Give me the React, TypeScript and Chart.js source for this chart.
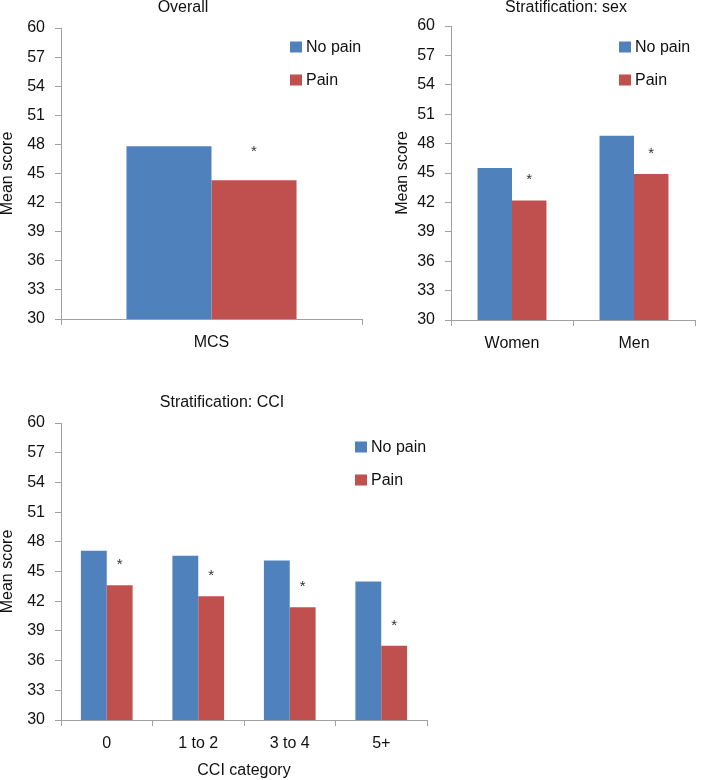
import React, { useEffect, useRef } from 'react';
import { Chart, registerables } from 'chart.js';

Chart.register(...registerables);

const FONT = '"Liberation Sans", Arial, Helvetica, sans-serif';
const TEXT = '#111111';
const AXIS = '#a0a0a0';
const BLUE = '#4F81BD';
const RED = '#C0504D';

const seriesLabels = ['No pain', 'Pain'];
const yMin = 30;
const yMax = 60;
const yStep = 3;

const overallCategories = ['MCS'];
const overallNoPain = [47.8];
const overallPain = [44.3];
const overallSig = [true];

const sexCategories = ['Women', 'Men'];
const sexNoPain = [45.5, 48.8];
const sexPain = [42.2, 44.9];
const sexSig = [true, true];

const cciCategories = ['0', '1 to 2', '3 to 4', '5+'];
const cciNoPain = [47.1, 46.6, 46.1, 44.0];
const cciPain = [43.6, 42.5, 41.4, 37.5];
const cciSig = [true, true, true, true];

const extrasPlugin = {
  id: 'panelExtras',
  afterDraw(chart: any, _args: any, opts: any) {
    const { ctx, chartArea } = chart;
    ctx.save();
    // title
    ctx.font = `16px ${FONT}`;
    ctx.fillStyle = TEXT;
    ctx.textAlign = 'center';
    ctx.textBaseline = 'middle';
    ctx.fillText(opts.title, opts.titleX, opts.titleY);
    // legend
    const lx = chartArea.right - opts.legendRight;
    chart.data.datasets.forEach((ds: any, i: number) => {
      const y = chartArea.top + opts.legendTop + i * opts.legendGap;
      ctx.fillStyle = ds.backgroundColor;
      ctx.fillRect(lx, y - 5.5, 12, 11);
      ctx.fillStyle = TEXT;
      ctx.textAlign = 'left';
      ctx.textBaseline = 'middle';
      ctx.font = `16px ${FONT}`;
      ctx.fillText(ds.label, lx + 16, y + 1);
    });
    // significance asterisks over the Pain bars
    const meta = chart.getDatasetMeta(1);
    ctx.font = `15px ${FONT}`;
    ctx.fillStyle = '#333333';
    ctx.textAlign = 'center';
    ctx.textBaseline = 'alphabetic';
    meta.data.forEach((bar: any, i: number) => {
      if (opts.sig[i]) ctx.fillText('*', bar.x, bar.y - opts.starGap);
    });
    ctx.restore();
  },
};

type PanelProps = {
  left: number;
  top: number;
  width: number;
  height: number;
  categories: string[];
  noPain: number[];
  pain: number[];
  sig: boolean[];
  title: string;
  titleX: number;
  titleY: number;
  padLeft: number;
  padTop: number;
  padRight: number;
  yWidth: number;
  xHeight: number;
  xTitle?: string;
  legendRight: number;
  legendTop: number;
  legendGap: number;
  starGap: number;
};

function Panel(p: PanelProps) {
  const ref = useRef<HTMLCanvasElement | null>(null);
  useEffect(() => {
    if (!ref.current) return;
    const chart = new Chart(ref.current, {
      type: 'bar',
      data: {
        labels: p.categories,
        datasets: [
          { label: seriesLabels[0], data: p.noPain, backgroundColor: BLUE, borderWidth: 0 },
          { label: seriesLabels[1], data: p.pain, backgroundColor: RED, borderWidth: 0 },
        ],
      },
      options: {
        animation: false,
        responsive: false,
        devicePixelRatio: 1,
        layout: { padding: { left: p.padLeft, top: p.padTop, right: p.padRight, bottom: 0 } },
        datasets: { bar: { categoryPercentage: 0.565, barPercentage: 1 } },
        plugins: {
          legend: { display: false },
          title: { display: false },
          tooltip: { enabled: false },
          panelExtras: {
            title: p.title,
            titleX: p.titleX,
            titleY: p.titleY,
            legendRight: p.legendRight,
            legendTop: p.legendTop,
            legendGap: p.legendGap,
            sig: p.sig,
            starGap: p.starGap,
          },
        } as any,
        scales: {
          x: {
            grid: {
              display: true,
              drawOnChartArea: false,
              drawTicks: true,
              tickLength: 6,
              color: AXIS,
              offset: true,
            },
            border: { display: true, color: AXIS, width: 1 },
            ticks: { font: { family: FONT, size: 16 }, color: TEXT, padding: 8, maxRotation: 0 },
            title: {
              display: !!p.xTitle,
              text: p.xTitle || '',
              font: { family: FONT, size: 16 },
              color: TEXT,
              padding: 0,
            },
            afterFit: (s: any) => {
              s.height = p.xHeight;
            },
          },
          y: {
            min: yMin,
            max: yMax,
            grid: {
              display: true,
              drawOnChartArea: false,
              drawTicks: true,
              tickLength: 6,
              color: AXIS,
            },
            border: { display: true, color: AXIS, width: 1 },
            ticks: {
              stepSize: yStep,
              autoSkip: false,
              font: { family: FONT, size: 16 },
              color: TEXT,
              padding: 10,
            },
            title: {
              display: true,
              text: 'Mean score',
              font: { family: FONT, size: 16, lineHeight: 1 },
              color: TEXT,
              padding: 0,
            },
            afterFit: (s: any) => {
              s.width = p.yWidth;
            },
          },
        },
      } as any,
      plugins: [extrasPlugin as any],
    });
    return () => chart.destroy();
  }, []);
  return (
    <canvas
      ref={ref}
      width={p.width}
      height={p.height}
      style={{ position: 'absolute', left: p.left, top: p.top, width: p.width, height: p.height }}
    />
  );
}

export default function App() {
  return (
    <div style={{ position: 'absolute', left: 0, top: 0, width: 702, height: 780, background: '#fff' }}>
      <Panel
        left={0}
        top={0}
        width={370}
        height={365}
        categories={overallCategories}
        noPain={overallNoPain}
        pain={overallPain}
        sig={overallSig}
        title="Overall"
        titleX={183}
        titleY={8}
        padLeft={0}
        padTop={28}
        padRight={8}
        yWidth={61}
        xHeight={46}
        legendRight={72}
        legendTop={19}
        legendGap={33}
        starGap={24}
      />
      <Panel
        left={390}
        top={0}
        width={312}
        height={365}
        categories={sexCategories}
        noPain={sexNoPain}
        pain={sexPain}
        sig={sexSig}
        title="Stratification: sex"
        titleX={176}
        titleY={8}
        padLeft={5}
        padTop={26}
        padRight={7}
        yWidth={56}
        xHeight={45}
        legendRight={76}
        legendTop={21}
        legendGap={33}
        starGap={16}
      />
      <Panel
        left={0}
        top={380}
        width={450}
        height={400}
        categories={cciCategories}
        noPain={cciNoPain}
        pain={cciPain}
        sig={cciSig}
        title="Stratification: CCI"
        titleX={222}
        titleY={23}
        padLeft={0}
        padTop={43}
        padRight={23}
        yWidth={61}
        xHeight={60}
        xTitle="CCI category"
        legendRight={72}
        legendTop={24}
        legendGap={33}
        starGap={16}
      />
    </div>
  );
}
